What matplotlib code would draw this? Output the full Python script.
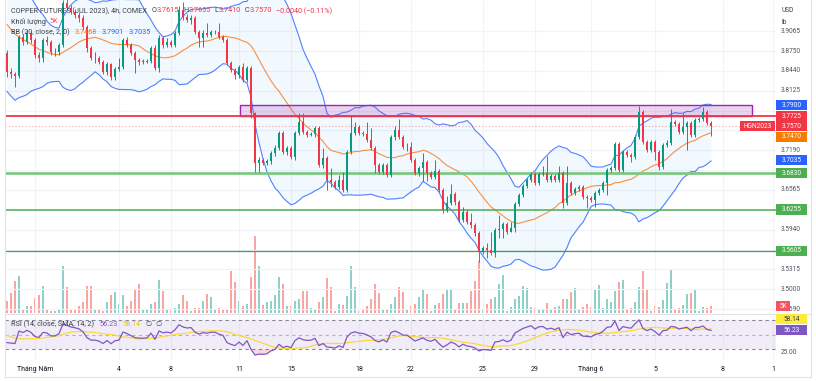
import matplotlib
matplotlib.use("Agg")
import matplotlib.pyplot as plt
from matplotlib.patches import Rectangle
from matplotlib.lines import Line2D
import numpy as np
import pandas as pd

plt.rcParams["font.family"] = ["Roboto", "DejaVu Sans"]

# DỮ LIỆU (HGN2023, khung 4h)
warmup_close = [3.930, 3.950, 3.960, 3.970, 3.980, 3.975, 3.990, 3.985, 4.000, 3.990,
                3.995, 3.987, 3.979, 3.995, 3.971, 3.963, 3.974, 3.955, 3.943, 3.932,
                3.940, 3.916, 3.900, 3.892, 3.877, 3.861, 3.869, 3.845, 3.837, 3.853]
first_open = 3.872
close = [
    3.842, 3.839, 3.836, 3.897, 3.889, 3.903, 3.892, 3.869, 3.864, 3.892,
    3.889, 3.873, 3.873, 3.884, 3.951, 3.943, 3.936, 3.932, 3.927, 3.913,
    3.880, 3.864, 3.864, 3.858, 3.842, 3.855, 3.834, 3.847, 3.850, 3.892,
    3.884, 3.872, 3.861, 3.858, 3.858, 3.859, 3.880, 3.848, 3.895, 3.884,
    3.889, 3.884, 3.903, 3.940, 3.929, 3.924, 3.927, 3.905, 3.895, 3.903,
    3.900, 3.905, 3.905, 3.897, 3.892, 3.856, 3.845, 3.837, 3.850, 3.829,
    3.848, 3.778, 3.699, 3.704, 3.699, 3.702, 3.715, 3.722, 3.746, 3.716,
    3.722, 3.708, 3.746, 3.763, 3.748, 3.743, 3.744, 3.754, 3.696, 3.707,
    3.672, 3.669, 3.661, 3.672, 3.656, 3.716, 3.746, 3.755, 3.746, 3.744,
    3.735, 3.722, 3.696, 3.685, 3.696, 3.680, 3.740, 3.751, 3.740, 3.724,
    3.724, 3.704, 3.683, 3.691, 3.700, 3.683, 3.677, 3.686, 3.656, 3.625,
    3.636, 3.650, 3.637, 3.609, 3.622, 3.606, 3.601, 3.589, 3.559, 3.565,
    3.562, 3.557, 3.593, 3.595, 3.603, 3.590, 3.597, 3.634, 3.648, 3.663,
    3.672, 3.682, 3.667, 3.682, 3.683, 3.672, 3.678, 3.672, 3.683, 3.636,
    3.667, 3.652, 3.658, 3.661, 3.645, 3.644, 3.641, 3.652, 3.656, 3.667,
    3.688, 3.691, 3.729, 3.688, 3.716, 3.711, 3.708, 3.740, 3.779, 3.732,
    3.719, 3.732, 3.716, 3.692, 3.727, 3.730, 3.763, 3.760, 3.748, 3.755,
    3.762, 3.743, 3.767, 3.768, 3.779, 3.7615, 3.7570]
high = [
    3.877, 3.848, 3.842, 3.900, 3.902, 3.908, 3.906, 3.895, 3.873, 3.895,
    3.899, 3.892, 3.880, 3.888, 3.955, 3.960, 3.947, 3.941, 3.936, 3.932,
    3.916, 3.883, 3.873, 3.867, 3.861, 3.858, 3.856, 3.850, 3.864, 3.895,
    3.897, 3.888, 3.875, 3.864, 3.862, 3.862, 3.883, 3.884, 3.900, 3.899,
    3.895, 3.892, 3.906, 3.946, 3.952, 3.933, 3.932, 3.930, 3.908, 3.908,
    3.919, 3.908, 3.908, 3.919, 3.900, 3.895, 3.859, 3.848, 3.853, 3.856,
    3.851, 3.851, 3.779, 3.708, 3.707, 3.705, 3.718, 3.727, 3.749, 3.749,
    3.726, 3.726, 3.749, 3.777, 3.777, 3.751, 3.748, 3.757, 3.757, 3.722,
    3.710, 3.691, 3.672, 3.680, 3.685, 3.719, 3.773, 3.763, 3.759, 3.749,
    3.763, 3.754, 3.726, 3.699, 3.699, 3.699, 3.743, 3.757, 3.768, 3.743,
    3.730, 3.732, 3.707, 3.694, 3.715, 3.704, 3.686, 3.704, 3.689, 3.659,
    3.647, 3.666, 3.653, 3.641, 3.630, 3.625, 3.620, 3.604, 3.592, 3.568,
    3.573, 3.590, 3.597, 3.617, 3.606, 3.606, 3.606, 3.637, 3.652, 3.666,
    3.675, 3.685, 3.685, 3.685, 3.694, 3.710, 3.682, 3.682, 3.694, 3.686,
    3.694, 3.670, 3.661, 3.664, 3.664, 3.648, 3.647, 3.655, 3.659, 3.670,
    3.691, 3.694, 3.732, 3.732, 3.719, 3.719, 3.715, 3.743, 3.789, 3.782,
    3.735, 3.735, 3.735, 3.719, 3.730, 3.735, 3.784, 3.766, 3.763, 3.777,
    3.765, 3.765, 3.770, 3.771, 3.787, 3.782, 3.7655]
low = [
    3.834, 3.833, 3.818, 3.833, 3.884, 3.886, 3.888, 3.864, 3.858, 3.858,
    3.884, 3.869, 3.867, 3.869, 3.881, 3.940, 3.933, 3.927, 3.921, 3.908,
    3.873, 3.861, 3.856, 3.855, 3.839, 3.837, 3.829, 3.829, 3.844, 3.847,
    3.881, 3.869, 3.840, 3.853, 3.855, 3.856, 3.856, 3.845, 3.842, 3.880,
    3.881, 3.881, 3.881, 3.900, 3.924, 3.921, 3.918, 3.902, 3.881, 3.881,
    3.897, 3.897, 3.902, 3.894, 3.889, 3.853, 3.842, 3.831, 3.833, 3.826,
    3.826, 3.770, 3.685, 3.685, 3.696, 3.696, 3.697, 3.710, 3.719, 3.713,
    3.711, 3.705, 3.704, 3.743, 3.744, 3.740, 3.741, 3.740, 3.693, 3.691,
    3.656, 3.661, 3.658, 3.658, 3.653, 3.653, 3.713, 3.743, 3.743, 3.741,
    3.732, 3.719, 3.683, 3.682, 3.682, 3.677, 3.677, 3.735, 3.737, 3.721,
    3.718, 3.700, 3.680, 3.678, 3.670, 3.670, 3.674, 3.674, 3.653, 3.620,
    3.622, 3.633, 3.633, 3.606, 3.606, 3.603, 3.597, 3.584, 3.543, 3.556,
    3.549, 3.554, 3.551, 3.581, 3.581, 3.587, 3.590, 3.590, 3.631, 3.645,
    3.659, 3.669, 3.664, 3.664, 3.678, 3.669, 3.669, 3.669, 3.669, 3.628,
    3.633, 3.648, 3.648, 3.655, 3.642, 3.628, 3.637, 3.630, 3.648, 3.653,
    3.648, 3.685, 3.688, 3.685, 3.685, 3.708, 3.700, 3.705, 3.737, 3.729,
    3.716, 3.716, 3.704, 3.688, 3.689, 3.724, 3.727, 3.757, 3.744, 3.744,
    3.719, 3.740, 3.740, 3.763, 3.765, 3.759, 3.7410]
volume = [
    12, 20, 32, 37, 4, 7, 7, 15, 18, 27, 3, 2, 2, 3, 47, 26, 3, 4, 7, 11,
    27, 27, 3, 3, 2, 11, 18, 21, 9, 18, 7, 12, 24, 29, 3, 4, 9,
    11, 33, 22, 4, 3, 5, 9, 18, 12, 2, 5, 5, 12, 19, 16, 3, 5, 3, 4, 42,
    31, 12, 7, 9, 36, 77, 47, 8, 11, 12, 18, 36, 29, 7, 7, 12, 14, 22, 22,
    5, 4, 11, 16, 35, 26, 2, 9, 8, 17, 47, 26, 2, 4, 7, 14, 29, 20, 4, 4,
    9, 16, 26, 21, 4, 7, 9, 16, 24, 19, 2, 8, 10, 19, 24, 23, 3, 10, 10,
    10, 22, 32, 52, 4, 9, 14, 16, 29, 38, 2, 6, 14, 17, 27, 25, 6, 5, 4, 4,
    10, 4, 6, 7, 14, 14, 21, 25, 3, 6, 9, 6, 23, 28, 5, 14, 11, 22, 31, 33,
    3, 5, 11, 26, 42, 24, 2, 7, 6, 13, 30, 44, 3, 5, 8, 19, 20, 24, 2, 6, 5, 7]

tick_pos = [7, 28, 41, 58, 71, 88, 101, 119, 132, 146, 162, 179, 191.5]
tick_lab = ["Tháng Năm", "4", "8", "11", "15", "18", "22", "25", "29", "Tháng 6", "5", "8", "1"]
price_grid = [3.9065, 3.8750, 3.8440, 3.8125, 3.7810, 3.7500, 3.7190, 3.6880,
              3.6565, 3.6255, 3.5940, 3.5625, 3.5315, 3.5000, 3.4690]
price_ticks = [3.9065, 3.8750, 3.8440, 3.8125, 3.7190, 3.6565, 3.5940, 3.5315, 3.5000, 3.4690]
resist_level = 3.7725
zone_low, zone_high = 3.7725, 3.7900
zone_from, zone_to = 58.25, 186.25
support_levels = [3.6830, 3.6255, 3.5605]
bb_last = {"upper": 3.7900, "basis": 3.7470, "lower": 3.7035}
rsi_last, rsi_ma_last = 56.23, 58.14

# MÀU
GREEN, RED = "#089981", "#f23645"
TXT = "#3b3f4a"
BLUE, ORANGE = "#2962ff", "#ff6d00"

n = len(close)
x = np.arange(n)
c = np.array(close)
o = np.array([first_open] + close[:-1])
h = np.array(high)
l = np.array(low)
v = np.array(volume)
up = c >= o

# Bollinger (20, 2) và RSI (14) + SMA 14
s = pd.Series(warmup_close + close)
mid = s.rolling(20).mean().to_numpy()[-n:]
sd = s.rolling(20).std(ddof=0).to_numpy()[-n:]
bb_up, bb_lo = mid + 2 * sd, mid - 2 * sd
d = s.diff()
gain = d.clip(lower=0).ewm(alpha=1 / 14, adjust=False).mean()
loss = (-d.clip(upper=0)).ewm(alpha=1 / 14, adjust=False).mean()
rsi_s = 100 - 100 / (1 + gain / loss)
rsi = rsi_s.to_numpy()[-n:]
rsi_ma = rsi_s.rolling(14, min_periods=1).mean().to_numpy()[-n:]

W, H = 816, 381
fig = plt.figure(figsize=(W / 100, H / 100), dpi=100)
fig.patch.set_facecolor("white")

L, R = 5, 776
main_rect = [L / W, 1 - 313 / H, (R - L) / W, 313 / H]
axv = fig.add_axes(main_rect)
ax = fig.add_axes(main_rect)
axr = fig.add_axes([L / W, 1 - 360 / H, (R - L) / W, 46 / H])
xlim = (-0.5, 192.25)
for a in (axv, ax, axr):
    a.set_xlim(*xlim)
    for sp in a.spines.values():
        sp.set_visible(False)
    a.set_yticks([])
ax.set_xticks([])
axv.set_xticks([])
ax.set_facecolor("none")
ax.set_ylim(3.4628, 3.9553)

# khối lượng
axv.bar(x, v, width=0.72, color=np.where(up, "#8fd0c9", "#f7a6a4"), linewidth=0)
axv.set_ylim(0, v.max() * 4.07)

# lưới
ax.hlines(price_grid, *xlim, colors="#f0f3fa", lw=0.8, zorder=0)
ax.vlines(tick_pos, 3.4628, 3.9553, colors="#f0f3fa", lw=0.8, zorder=0)

# Bollinger
ax.fill_between(x, bb_lo, bb_up, color="#2196f3", alpha=0.06, lw=0, zorder=1)
ax.plot(x, bb_up, color=BLUE, lw=0.8, alpha=0.8, zorder=2)
ax.plot(x, bb_lo, color=BLUE, lw=0.8, alpha=0.8, zorder=2)
ax.plot(x, mid, color=ORANGE, lw=0.8, alpha=0.75, zorder=2)

# vùng kháng cự + đường ngang
ax.add_patch(Rectangle((zone_from, zone_low), zone_to - zone_from, zone_high - zone_low,
                       facecolor="#9c27b0", alpha=0.2, edgecolor="none", zorder=2))
ax.add_patch(Rectangle((zone_from, zone_low), zone_to - zone_from, zone_high - zone_low,
                       facecolor="none", edgecolor="#9c27b0", lw=1.0, zorder=2.5))
ax.axhline(resist_level, color=RED, lw=1.3, zorder=3)
ax.axhline(c[-1], color=RED, lw=0.8, alpha=0.45, ls=(0, (1, 2)), zorder=3)
for lev, col, lw in zip(support_levels, ["#81c784", "#4caf50", "#43a047"], [2.0, 1.1, 0.9]):
    ax.axhline(lev, color=col, lw=lw, zorder=3)

# nến
cols = np.where(up, GREEN, RED)
ax.vlines(x, l, h, colors=cols, lw=0.7, zorder=4)
ax.bar(x, np.maximum(np.abs(c - o), 0.0007), bottom=np.minimum(o, c), width=0.66,
       color=cols, linewidth=0, zorder=5)

# RSI
rlim = (15.4, 78.2)
axr.set_ylim(*rlim)
axr.axhspan(30, 70, color="#7e57c2", alpha=0.1, lw=0)
axr.vlines(tick_pos, *rlim, colors="#f0f3fa", lw=0.8, zorder=0)
for lev, al in [(70, 0.9), (50, 0.5), (30, 0.9)]:
    axr.axhline(lev, color="#787b86", lw=0.8, alpha=al, ls=(0, (3, 3)))
axr.fill_between(x, rsi, 30, where=rsi < 30, color=RED, alpha=0.2, lw=0, interpolate=True)
axr.fill_between(x, rsi, 70, where=rsi > 70, color=GREEN, alpha=0.2, lw=0, interpolate=True)
axr.plot(x, rsi_ma, color="#fdd835", lw=0.9)
axr.plot(x, rsi, color="#7e57c2", lw=0.9)
axr.set_xticks(tick_pos)
axr.set_xticklabels(tick_lab, fontsize=5, color="#131722")
axr.tick_params(axis="x", length=0, pad=4)

# khung
for xs, ys in [([L / W, L / W], [1 - 377 / H, 1]), ([811 / W, 811 / W], [1 - 377 / H, 1]),
               ([L / W, 811 / W], [1 - 377 / H] * 2), ([L / W, 811 / W], [1 - 313.5 / H] * 2)]:
    fig.add_artist(Line2D(xs, ys, color="#e0e3eb", lw=0.8))


def yfig(axis, val):
    return axis.transData.transform((0, val))[1] / H


def tag(axis, val, txt, fc, tc="white", dy=0.0, x0=776, w=31):
    yf = yfig(axis, val) - dy / H
    fig.add_artist(Rectangle((x0 / W, yf - 5.3 / H), w / W, 10.6 / H, transform=fig.transFigure,
                             facecolor=fc, edgecolor="none", zorder=5))
    fig.text((x0 + w / 2) / W, yf, txt, color=tc, fontsize=4.7, ha="center", va="center", zorder=6)


for val in price_ticks:
    fig.text(781 / W, yfig(ax, val), f"{val:.4f}", fontsize=4.7, color="#50535e", va="center")
fig.text(781 / W, yfig(axr, 25), "25.00", fontsize=4.7, color="#50535e", va="center")
fig.text(782 / W, 1 - 10 / H, "USD", fontsize=4.8, color=TXT, va="center")
fig.text(782 / W, 1 - 22.5 / H, "lb", fontsize=4.8, color=TXT, va="center",
         bbox=dict(facecolor="white", edgecolor="none", pad=0.8))

tag(ax, bb_last["upper"], f"{bb_last['upper']:.4f}", BLUE)
tag(ax, resist_level, f"{resist_level:.4f}", RED)
tag(ax, c[-1], f"{c[-1]:.4f}", RED)
tag(ax, bb_last["basis"], f"{bb_last['basis']:.4f}", "#f57c00", dy=4.5)
tag(ax, bb_last["lower"], f"{bb_last['lower']:.4f}", BLUE)
for lev in support_levels:
    tag(ax, lev, f"{lev:.4f}", "#4caf50")
tag(ax, c[-1], "HGN2023", RED, x0=740, w=35)
tag(axv, v[-1], "5K", "#f7525f", x0=776, w=14)
tag(axr, rsi_ma_last, f"{rsi_ma_last:.2f}", "#ffeb3b", tc=TXT, dy=-9.6)
tag(axr, rsi_last, f"{rsi_last:.2f}", "#7e57c2")

# chú thích
renderer = fig.canvas.get_renderer()


def chain(x_px, y_px, parts, size=5.2):
    xx = x_px
    for txt, col, gap in parts:
        t = fig.text(xx / W, 1 - y_px / H, txt, color=col, fontsize=size, ha="left", va="center")
        xx += t.get_window_extent(renderer).width + gap


chain(11, 11, [("COPPER FUTURES (JUL 2023), 4h, COMEX", TXT, 5),
               ("O", TXT, 0), ("3.7615", RED, 4), ("H", TXT, 0), ("3.7655", RED, 4),
               ("L", TXT, 0), ("3.7410", RED, 4), ("C", TXT, 0), ("3.7570", RED, 4),
               ("−0.0040 (−0.11%)", RED, 0)])
chain(11, 21.5, [("Khối lượng", TXT, 4), ("5K", "#f7525f", 0)])
chain(11, 32, [("BB (20, close, 2, 0)", TXT, 5), ("3.7468", ORANGE, 5),
               ("3.7901", BLUE, 5), ("3.7035", BLUE, 0)])
chain(11, 324, [("RSI (14, close, SMA, 14, 2)", TXT, 5), ("56.23", "#7e57c2", 5),
                ("58.14", "#e8c800", 5), ("∅", TXT, 4), ("∅", TXT, 0)])

fig.savefig("out.png", dpi=100, facecolor="white")
